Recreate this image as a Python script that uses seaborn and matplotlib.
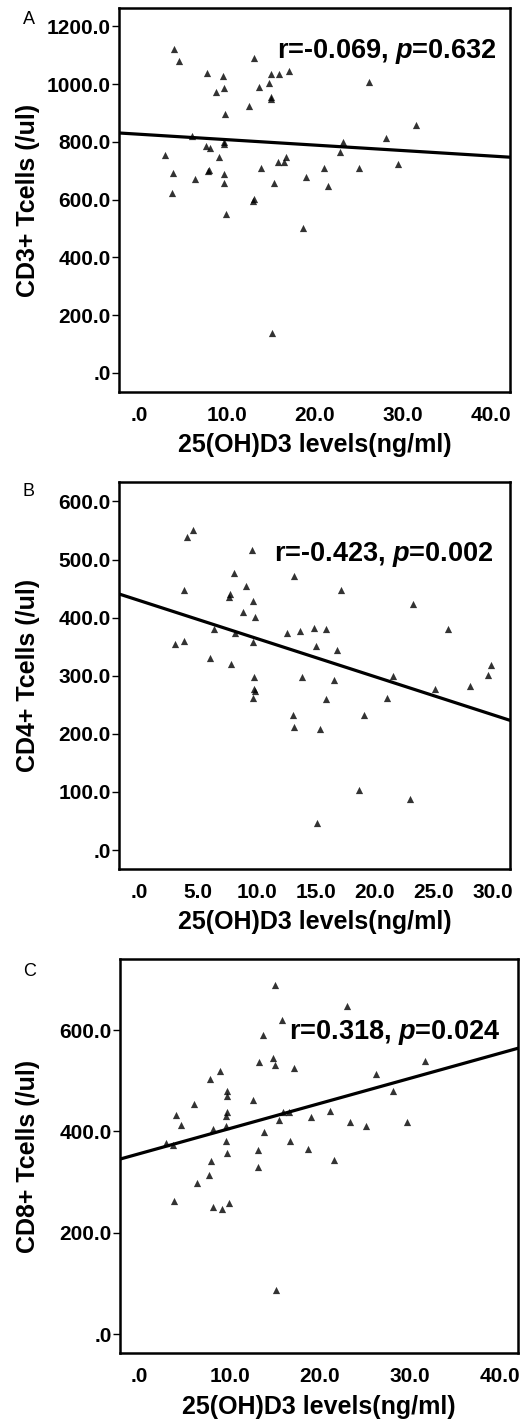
import matplotlib
matplotlib.use("Agg")
import matplotlib.pyplot as plt
import seaborn as sns

# Panel A: CD3+ T cells vs 25(OH)D3
cd3_vitd = [3.98, 4.52, 7.70, 9.52, 8.76, 9.60, 9.79, 13.05, 15.00, 15.86,
            17.10, 14.80, 13.60, 15.00, 15.00, 12.50, 6.00, 7.55, 8.08, 9.64,
            9.70, 2.96, 9.10, 3.80, 6.34, 7.78, 8.00, 9.64, 9.70, 3.76,
            13.85, 15.80, 16.70, 16.50, 15.30, 19.00, 13.05, 13.00, 26.10, 31.50,
            28.10, 23.20, 22.90, 21.00, 25.00, 29.50, 21.50, 9.83, 18.66, 15.06]
cd3_cells = [1120, 1080, 1037, 1028, 973, 987, 896, 1089, 1035, 1035,
             1045, 1005, 989, 956, 947, 925, 822, 786, 778, 799,
             792, 753, 748, 691, 671, 700, 702, 688, 656, 624,
             710, 731, 748, 730, 658, 679, 602, 595, 1008, 857,
             813, 798, 766, 708, 711, 723, 648, 552, 501, 139]

# Panel B: CD4+ T cells
cd4_vitd = [4.03, 4.54, 9.56, 8.05, 13.13, 3.83, 9.10, 7.71, 7.63, 9.64,
            8.84, 9.81, 6.33, 8.10, 9.64, 3.04, 3.83, 12.56, 13.64, 14.86,
            15.00, 6.01, 7.82, 9.75, 13.86, 17.15, 23.30, 26.20, 15.85, 16.80,
            29.90, 29.60, 21.60, 16.56, 9.75, 9.84, 9.67, 15.88, 21.06, 25.09,
            28.06, 13.04, 19.08, 13.15, 15.37, 18.68, 23.00, 15.08]
cd4_cells = [539, 550, 517, 476, 472, 447, 455, 440, 435, 429,
             410, 401, 380, 373, 358, 354, 359, 374, 377, 383,
             352, 331, 321, 298, 298, 447, 423, 380, 380, 344,
             319, 301, 299, 292, 278, 274, 262, 260, 262, 278,
             282, 233, 233, 211, 208, 103, 88, 46]

# Panel C: CD8+ T cells
cd8_vitd = [15.04, 15.80, 13.67, 13.19, 14.80, 15.00, 17.15, 8.85, 7.74, 9.67,
            9.70, 6.04, 12.56, 4.04, 9.63, 9.59, 4.52, 8.15, 9.52, 15.40,
            15.85, 16.60, 19.04, 2.96, 3.70, 13.80, 9.59, 16.70, 13.15, 18.67,
            9.70, 23.00, 31.60, 26.20, 28.07, 21.07, 23.30, 25.10, 29.60, 7.85,
            21.60, 13.07, 7.63, 6.37, 3.85, 8.07, 9.15, 9.85, 15.07]
cd8_cells = [688, 619, 590, 538, 544, 531, 525, 520, 503, 479,
             469, 454, 462, 433, 438, 431, 413, 405, 410, 423,
             439, 438, 428, 377, 373, 399, 381, 381, 364, 366,
             358, 648, 539, 514, 480, 441, 419, 411, 419, 342,
             344, 329, 314, 298, 262, 251, 247, 258, 87]

# tick positions and SPSS style labels
a_yticks = [0, 200, 400, 600, 800, 1000, 1200]
a_ylabels = [".0", "200.0", "400.0", "600.0", "800.0", "1000.0", "1200.0"]
a_xticks = [0, 10, 20, 30, 40]
a_xlabels = [".0", "10.0", "20.0", "30.0", "40.0"]
b_yticks = [0, 100, 200, 300, 400, 500, 600]
b_ylabels = [".0", "100.0", "200.0", "300.0", "400.0", "500.0", "600.0"]
b_xticks = [0, 5, 10, 15, 20, 25, 30]
b_xlabels = [".0", "5.0", "10.0", "15.0", "20.0", "25.0", "30.0"]
c_yticks = [0, 200, 400, 600]
c_ylabels = [".0", "200.0", "400.0", "600.0"]
c_xticks = [0, 10, 20, 30, 40]
c_xlabels = [".0", "10.0", "20.0", "30.0", "40.0"]

sns.set_style("ticks")
plt.rcParams["font.family"] = ["Liberation Sans", "DejaVu Sans"]
plt.rcParams["mathtext.fontset"] = "custom"
plt.rcParams["mathtext.it"] = "Liberation Sans:italic:bold"
plt.rcParams["mathtext.rm"] = "Liberation Sans:bold"
for key in ["text.color", "axes.labelcolor", "xtick.color", "ytick.color",
            "axes.edgecolor"]:
    plt.rcParams[key] = "black"

panels = [
    dict(x=cd3_vitd, y=cd3_cells, rect=[0.2275, 0.7243, 0.7476, 0.2700],
         xlim=(-2.3, 42.2), ylim=(-66, 1263), xt=a_xticks, xtl=a_xlabels,
         yt=a_yticks, ytl=a_ylabels, ylab="CD3+ Tcells (/ul)", labx=-0.202,
         stat=r"r=-0.069, $p$=0.632", spos=(0.403, 0.886),
         letter="A", lpos=(0.0554, 0.986)),
    dict(x=cd4_vitd, y=cd4_cells, rect=[0.2275, 0.3887, 0.7476, 0.2726],
         xlim=(-1.73, 31.5), ylim=(-33, 634), xt=b_xticks, xtl=b_xlabels,
         yt=b_yticks, ytl=b_ylabels, ylab="CD4+ Tcells (/ul)", labx=-0.202,
         stat=r"r=-0.423, $p$=0.002", spos=(0.397, 0.811),
         letter="B", lpos=(0.0545, 0.6542)),
    dict(x=cd8_vitd, y=cd8_cells, rect=[0.2294, 0.0483, 0.7616, 0.2771],
         xlim=(-2.2, 42.0), ylim=(-37.5, 739.6), xt=c_xticks, xtl=c_xlabels,
         yt=c_yticks, ytl=c_ylabels, ylab="CD8+ Tcells (/ul)", labx=-0.200,
         stat=r"r=0.318, $p$=0.024", spos=(0.425, 0.815),
         letter="C", lpos=(0.0564, 0.3168)),
]

fig = plt.figure(figsize=(5.23, 14.22), dpi=100)

for p in panels:
    ax = fig.add_axes(p["rect"])
    ax.set_xlim(*p["xlim"])
    ax.set_ylim(*p["ylim"])
    sns.regplot(x=p["x"], y=p["y"], ax=ax, ci=None, truncate=False,
                marker="^", color="black",
                scatter_kws=dict(s=27, linewidths=0),
                line_kws=dict(lw=2.3))
    ax.set_xlim(*p["xlim"])
    ax.set_ylim(*p["ylim"])
    ax.set_xticks(p["xt"])
    ax.set_xticklabels(p["xtl"], fontsize=15, fontweight="bold")
    ax.set_yticks(p["yt"])
    ax.set_yticklabels(p["ytl"], fontsize=15, fontweight="bold")
    ax.tick_params(axis="y", length=5, width=1, pad=1)
    ax.tick_params(axis="x", length=0, pad=10)
    ax.set_xlabel("25(OH)D3 levels(ng/ml)", fontsize=18, fontweight="bold", labelpad=6)
    ax.set_ylabel(p["ylab"], fontsize=18, fontweight="bold")
    ax.yaxis.set_label_coords(p["labx"], 0.5)
    for sp in ax.spines.values():
        sp.set_linewidth(1.8)
        sp.set_color("black")
    ax.text(p["spos"][0], p["spos"][1], p["stat"], transform=ax.transAxes,
            fontsize=19.5, fontweight="bold", ha="left", va="center")
    fig.text(p["lpos"][0], p["lpos"][1], p["letter"], fontsize=13,
             ha="center", va="center")

fig.savefig("out.png", dpi=100)
